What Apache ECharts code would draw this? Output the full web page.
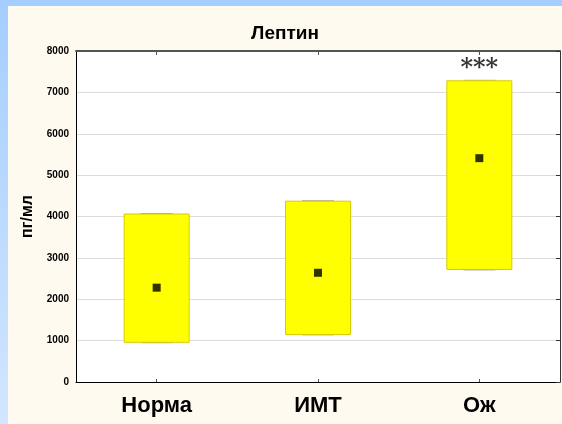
<!DOCTYPE html>
<html>
<head>
<meta charset="utf-8">
<script src="https://cdn.jsdelivr.net/npm/echarts@6/dist/echarts.min.js"></script>
<style>
html,body{margin:0;padding:0;}
#wrap{width:562px;height:424px;box-sizing:border-box;padding:6px 0 0 8px;
  background:linear-gradient(to bottom,#a4ceff,#d2e6ff);}
#main{width:554px;height:418px;background:#fffaef;}
</style>
</head>
<body>
<div id="wrap"><div id="main"></div></div>
<script>
// группы
var groups = ['Норма', 'ИМТ', 'Ож'];
// нижняя и верхняя граница прямоугольника
var boxLow = [960, 1150, 2720];
var boxHigh = [4060, 4370, 7280];
// среднее
var means = [2280, 2640, 5410];
// значимость
var signif = ['', '', '***'];
var yTicks = [0, 1000, 2000, 3000, 4000, 5000, 6000, 7000, 8000];

var chart = echarts.init(document.getElementById('main'));

var boxData = groups.map(function (g, i) {
	return [i, boxLow[i], boxHigh[i]];
});

var option = {
	animation: false,
	title: {
		text: 'Лептин',
		left: 'center',
		top: 13,
		textStyle: { fontFamily: 'Arial', fontSize: 19, fontWeight: 'bold', color: '#000' }
	},
	grid: { left: 68, right: 2, top: 45, bottom: 42, show: true, backgroundColor: '#fff', borderWidth: 0 },
	xAxis: [{
		type: 'category',
		data: groups,
		position: 'bottom',
		axisLine: { onZero: false, lineStyle: { color: '#000', width: 1 } },
		axisTick: { show: true, inside: true, alignWithLabel: true, length: 3, lineStyle: { color: '#555' } },
		axisLabel: { fontFamily: 'Arial', fontSize: 22, fontWeight: 'bold', color: '#000', margin: 13 },
		splitLine: { show: false }
	}, {
		type: 'category',
		data: groups,
		position: 'top',
		axisLine: { onZero: false, lineStyle: { color: '#555', width: 2 } },
		axisTick: { show: true, inside: true, alignWithLabel: true, length: 4, lineStyle: { color: '#555' } },
		axisLabel: { show: false }
	}],
	yAxis: [{
		type: 'value',
		min: 0,
		max: 8000,
		interval: 1000,
		name: 'пг/мл',
		nameLocation: 'middle',
		nameGap: 38,
		nameTextStyle: { fontFamily: 'Arial', fontSize: 16, fontWeight: 'bold', color: '#000' },
		axisLine: { show: true, onZero: false, lineStyle: { color: '#000' } },
		axisTick: { show: false },
		axisLabel: {
			fontFamily: 'Arial', fontSize: 10, fontWeight: 'bold', color: '#000', margin: 7,
			formatter: function (v) { return yTicks.indexOf(v) >= 0 ? String(v) : ''; }
		},
		splitLine: { show: true, lineStyle: { color: '#dcdcdc' } }
	}, {
		type: 'value',
		min: 0,
		max: 8000,
		interval: 1000,
		position: 'right',
		axisLine: { show: true, onZero: false, lineStyle: { color: '#333' } },
		axisTick: { show: true, inside: true, length: 4, lineStyle: { color: '#333' } },
		axisLabel: { show: false },
		splitLine: { show: false }
	}],
	series: [{
		name: 'box',
		type: 'custom',
		xAxisIndex: 0,
		yAxisIndex: 0,
		data: boxData,
		renderItem: function (params, api) {
			var c = api.value(0);
			var lo = api.coord([c, api.value(1)]);
			var hi = api.coord([c, api.value(2)]);
			var w = 65;
			var cap = 32;
			return {
				type: 'group',
				children: [{
					type: 'line',
					shape: { x1: lo[0] - cap / 2, y1: lo[1] + 0.5, x2: lo[0] + cap / 2, y2: lo[1] + 0.5 },
					style: { stroke: '#aaa', lineWidth: 1 }
				}, {
					type: 'line',
					shape: { x1: hi[0] - cap / 2, y1: hi[1] - 0.5, x2: hi[0] + cap / 2, y2: hi[1] - 0.5 },
					style: { stroke: '#aaa', lineWidth: 1 }
				}, {
					type: 'rect',
					shape: { x: hi[0] - w / 2, y: hi[1], width: w, height: lo[1] - hi[1] },
					style: { fill: '#ffff00', stroke: '#d6cc00', lineWidth: 1 }
				}]
			};
		},
		z: 2
	}, {
		name: 'sig',
		type: 'scatter',
		data: groups.map(function (g, i) { return [i, boxHigh[i]]; }),
		symbolSize: 0,
		label: {
			show: true,
			position: 'top',
			distance: 0,
			fontFamily: 'DejaVu Serif',
			fontSize: 24,
			fontWeight: 'bold',
			color: '#000',
			formatter: function (p) { return signif[p.dataIndex]; }
		},
		silent: true,
		z: 4
	}, {
		name: 'mean',
		type: 'scatter',
		data: groups.map(function (g, i) { return [i, means[i]]; }),
		symbol: 'rect',
		symbolSize: 8,
		itemStyle: { color: '#000' },
		z: 5
	}]
};
chart.setOption(option);
</script>
</body>
</html>
